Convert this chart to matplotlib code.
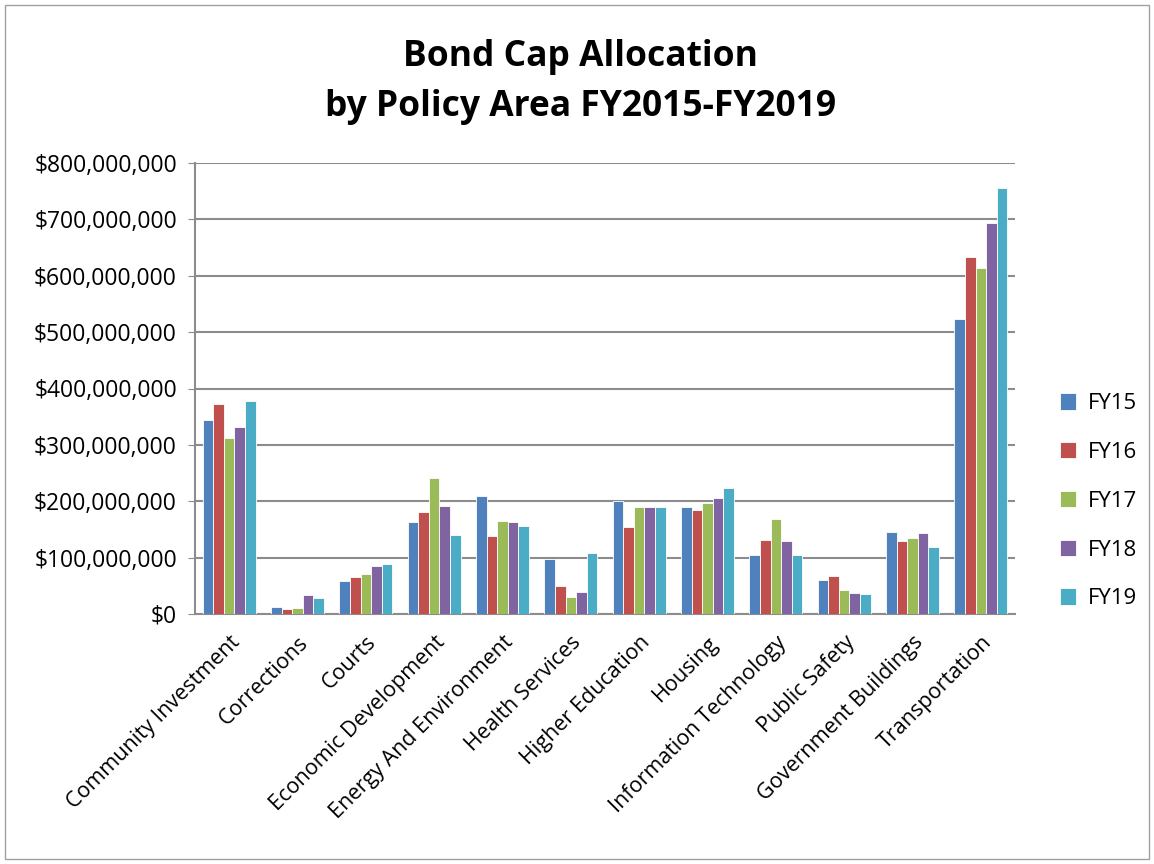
import numpy as np
import matplotlib.pyplot as plt
from matplotlib.patches import Rectangle
from matplotlib.ticker import FuncFormatter

plt.rcParams['font.family'] = ['Open Sans', 'DejaVu Sans']

categories = ['Community Investment', 'Corrections', 'Courts', 'Economic Development',
              'Energy And Environment', 'Health Services', 'Higher Education', 'Housing',
              'Information Technology', 'Public Safety', 'Government Buildings', 'Transportation']
years = ['FY15', 'FY16', 'FY17', 'FY18', 'FY19']
colors = ['#4F81BD', '#C0504D', '#9BBB59', '#8064A2', '#4BACC6']

# values in millions of dollars
fy15 = [344, 13, 59, 163, 209, 98, 201, 189, 105, 60, 145, 523]
fy16 = [372, 8, 65, 181, 139, 50, 154, 185, 131, 67, 129, 633]
fy17 = [313, 11, 71, 241, 165, 31, 189, 197, 168, 42, 135, 614]
fy18 = [332, 33, 86, 191, 164, 39, 189, 206, 130, 37, 144, 694]
fy19 = [377, 29, 89, 140, 156, 109, 189, 223, 104, 35, 118, 756]
series = [fy15, fy16, fy17, fy18, fy19]

fig = plt.figure(figsize=(11.54, 8.64), dpi=100)
ax = fig.add_axes([195/1154, 1 - 614/864, 820/1154, 451/864])

x = np.arange(len(categories))
w = 0.155
for i, vals in enumerate(series):
    ax.bar(x + (i - 2) * w, np.array(vals) * 1e6, w, color=colors[i],
           edgecolor='white', linewidth=0.6, label=years[i], zorder=3)

ax.set_xlim(-0.5, len(categories) - 0.5)
ax.set_ylim(0, 800e6)
ax.set_yticks(np.arange(0, 800e6 + 1, 100e6))
ax.yaxis.set_major_formatter(FuncFormatter(lambda v, p: '${:,.0f}'.format(v)))
ax.grid(axis='y', color='#8c8c8c', linewidth=1.5, zorder=0)
ax.set_xticks(x)
ax.set_xticklabels(categories, rotation=45, ha='right', rotation_mode='anchor')
ax.tick_params(axis='y', labelsize=16.5, length=5, color='#8c8c8c', pad=8)
ax.tick_params(axis='x', labelsize=15.5, length=0, pad=13)
for s in ['top', 'right']:
    ax.spines[s].set_visible(False)
ax.spines['left'].set_color('#8c8c8c')
ax.spines['bottom'].set_color('#8c8c8c')
ax.spines['left'].set_linewidth(1.5)
ax.spines['bottom'].set_linewidth(1.5)

fig.text(0.503, 0.934, 'Bond Cap Allocation', ha='center', va='center',
         fontsize=25.5, fontweight='bold')
fig.text(0.503, 0.876, 'by Policy Area FY2015-FY2019', ha='center', va='center',
         fontsize=25.5, fontweight='bold')

ax.legend(loc='center left', bbox_to_anchor=(1.03, 0.25), frameon=False,
          fontsize=16, handlelength=0.75, handleheight=0.75, labelspacing=1.25,
          handletextpad=0.5)

fig.patches.append(Rectangle((0.004, 0.006), 0.992, 0.988, transform=fig.transFigure,
                             fill=False, edgecolor='#a0a0a0', linewidth=1))

fig.savefig('out.png', dpi=100)
